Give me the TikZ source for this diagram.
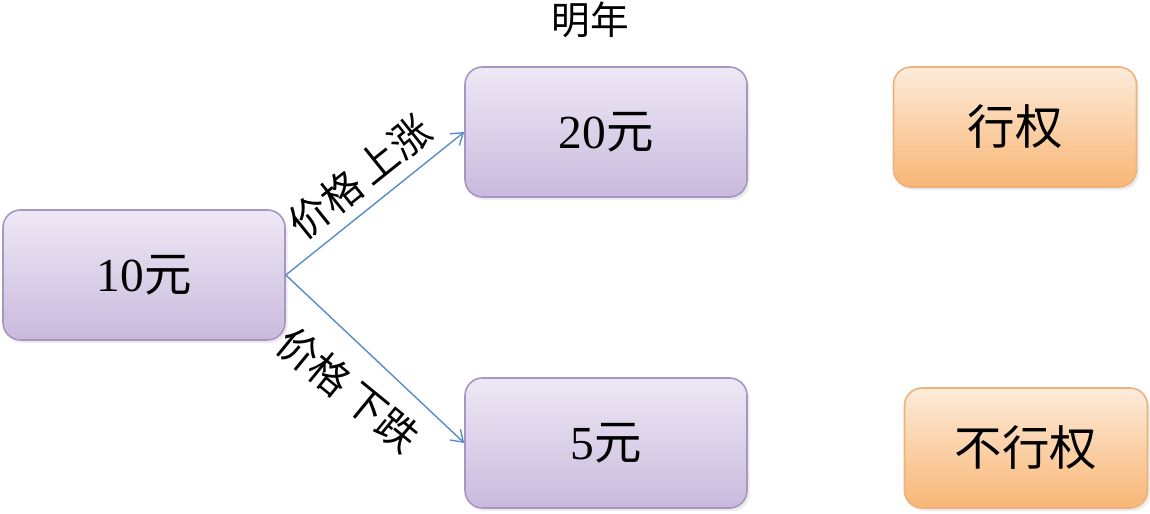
\documentclass[tikz,border=0pt]{standalone}
\usepackage{fontspec}
\setmainfont{Liberation Serif}
\newfontfamily\cjk{Noto Sans CJK SC}
\usetikzlibrary{calc,backgrounds,arrows.meta,positioning,shadows}
\definecolor{lilactop}{HTML}{EEE8F5}
\definecolor{lilacbot}{HTML}{C9BADD}
\definecolor{lilacline}{HTML}{A796C2}
\definecolor{peachtop}{HTML}{FDEBDA}
\definecolor{peachbot}{HTML}{F8B675}
\definecolor{peachline}{HTML}{EDB27A}
\definecolor{arrowblue}{HTML}{5B8CC8}

\begin{document}
\begin{tikzpicture}[%
    show background rectangle,%
    tight background,%
    background rectangle/.style={fill=white}%
  ]
  \tikzset{%
    pricebox/.style={draw=lilacline, line width=0.9pt, rounded corners=0.35cm,%
      top color=lilactop, bottom color=lilacbot,%
      drop shadow={opacity=0.15, shadow xshift=0.05cm, shadow yshift=-0.06cm},%
      minimum width=5.64cm, minimum height=2.6cm, font=\fontsize{27}{30}\selectfont},%
    choicebox/.style={draw=peachline, line width=0.9pt, rounded corners=0.35cm,%
      top color=peachtop, bottom color=peachbot,%
      drop shadow={opacity=0.15, shadow xshift=0.05cm, shadow yshift=-0.06cm},%
      minimum width=4.86cm, minimum height=2.4cm, font=\fontsize{27}{30}\selectfont\cjk},%
    move/.style={draw=arrowblue, line width=0.8pt, -{Straight Barb[length=2.2mm, width=3mm]}},%
    movelabel/.style={font=\fontsize{23}{26}\selectfont\cjk, sloped, inner sep=1pt}%
  }%
  \useasboundingbox (0,0) rectangle (23,10.28);%

  %
  % Prix
  %
  \node[pricebox] (today) at (2.88,4.78) {10{\cjk 元}};%
  \node[pricebox] (up) at (12.12,7.64) {20{\cjk 元}};%
  \node[pricebox] (down) at (12.12,1.42) {5{\cjk 元}};%
  \node[font=\fontsize{22}{25}\selectfont\cjk] (year) at (11.8,9.88) {明年};%

  % Exercice
  \node[choicebox] (exercise) at (20.3,7.74) {行权};%
  \node[choicebox] (noexercise) at (20.52,1.32) {不行权};%

  %
  % Transitions
  %
  \draw[move] (today.east) -- (up.west)%
  node[movelabel, pos=0.52, above=5pt] {价格\,上涨};%
  \draw[move] (today.east) -- (down.west)%
  node[movelabel, pos=0.5, below=11pt, rotate=4] {价格\,下跌};%
\end{tikzpicture}
\end{document}
